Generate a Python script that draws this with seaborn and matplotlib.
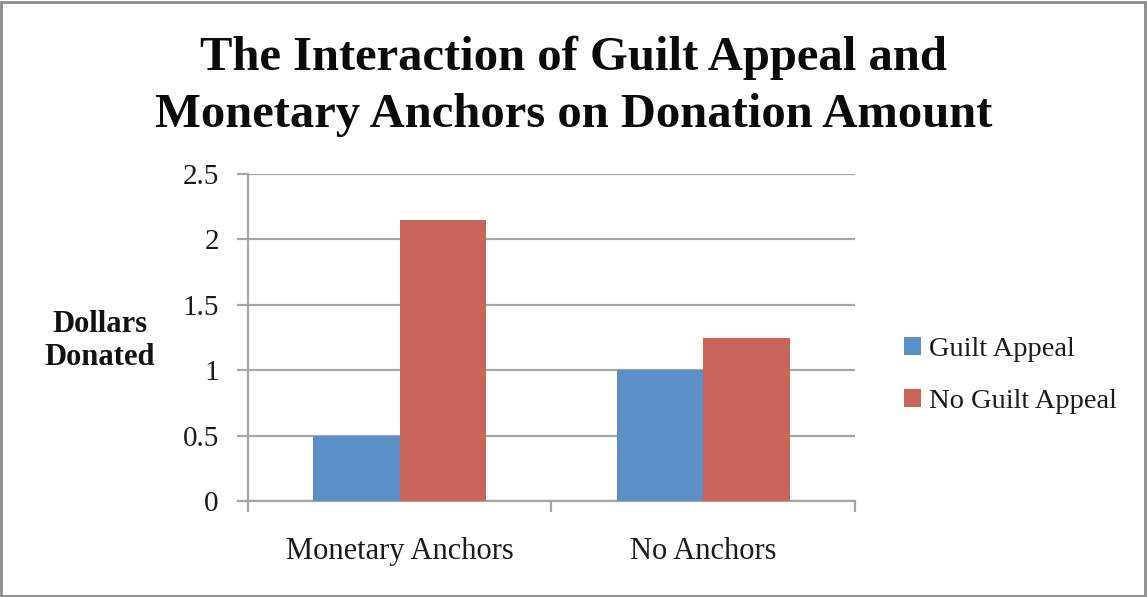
import matplotlib
matplotlib.use("Agg")
import matplotlib.pyplot as plt
import seaborn as sns
import pandas as pd
from matplotlib.patches import Rectangle
from matplotlib.ticker import FixedLocator

# Data
anchors = ["Monetary Anchors", "No Anchors"]
appeal = ["Guilt Appeal", "No Guilt Appeal"]
guilt_values = [0.5, 1.0]
no_guilt_values = [2.15, 1.25]
y_ticks = [0, 0.5, 1, 1.5, 2, 2.5]
y_tick_labels = ["0", "0.5", "1", "1.5", "2", "2.5"]

df = pd.DataFrame({
    "Anchor": anchors * 2,
    "Appeal": [appeal[0]] * 2 + [appeal[1]] * 2,
    "Dollars": guilt_values + no_guilt_values,
})

sns.set_theme(style="white")
plt.rcParams["font.family"] = ["Liberation Serif", "DejaVu Serif"]

fig = plt.figure(figsize=(11.47, 5.97), dpi=100)
ax = fig.add_axes([0.2162, 0.1608, 0.5292, 0.5477])

palette = {appeal[0]: "#5B8FC7", appeal[1]: "#C9645B"}
sns.barplot(data=df, x="Anchor", y="Dollars", hue="Appeal", order=anchors,
            hue_order=appeal, palette=palette, width=0.57, saturation=1,
            edgecolor="none", linewidth=0, ax=ax, zorder=3)

grid_col = "#A6A6A6"
ax.set_xlim(-0.5, 1.5)
ax.set_ylim(0, 2.5)
ax.set_yticks(y_ticks)
ax.set_yticklabels(y_tick_labels)
ax.yaxis.grid(True, color=grid_col, linewidth=1.6, zorder=0)
ax.set_axisbelow(True)

for side in ["top", "right"]:
    ax.spines[side].set_visible(False)
for side in ["left", "bottom"]:
    ax.spines[side].set_color(grid_col)
    ax.spines[side].set_linewidth(1.6)

ax.tick_params(axis="y", which="major", direction="out", length=8, width=1.6,
               color=grid_col, labelsize=21, pad=13, left=True)
ax.tick_params(axis="x", which="major", length=0, labelsize=22, pad=26)
ax.xaxis.set_minor_locator(FixedLocator([-0.5, 0.5, 1.5]))
ax.tick_params(axis="x", which="minor", direction="out", length=8, width=1.6,
               color=grid_col, bottom=True)
for lbl in ax.get_xticklabels() + ax.get_yticklabels():
    lbl.set_color("#1A1A1A")

ax.set_xlabel("")
ax.set_ylabel("Dollars\nDonated", rotation=0, fontsize=22, fontweight="bold",
              color="#111111", ha="center", va="center", labelpad=0,
              linespacing=1.2)
ax.yaxis.set_label_coords(-0.244, 0.49)

leg = ax.legend(loc="center left", bbox_to_anchor=(1.08, 0.385), frameon=False,
                fontsize=20.5, handlelength=0.6, handleheight=0.6,
                handletextpad=0.3, labelspacing=0.95, borderpad=0,
                borderaxespad=0)
for t in leg.get_texts():
    t.set_color("#1A1A1A")

fig.suptitle("The Interaction of Guilt Appeal and\nMonetary Anchors on Donation Amount",
             x=0.5, y=0.94, fontsize=35, fontweight="bold", color="#0A0A0A",
             linespacing=1.38, va="top")

fig.patches.append(Rectangle((0.001, 0.002), 0.997, 0.995, transform=fig.transFigure,
                             fill=False, edgecolor="#8C8C8C", linewidth=2))

fig.savefig("out.png", dpi=100)
